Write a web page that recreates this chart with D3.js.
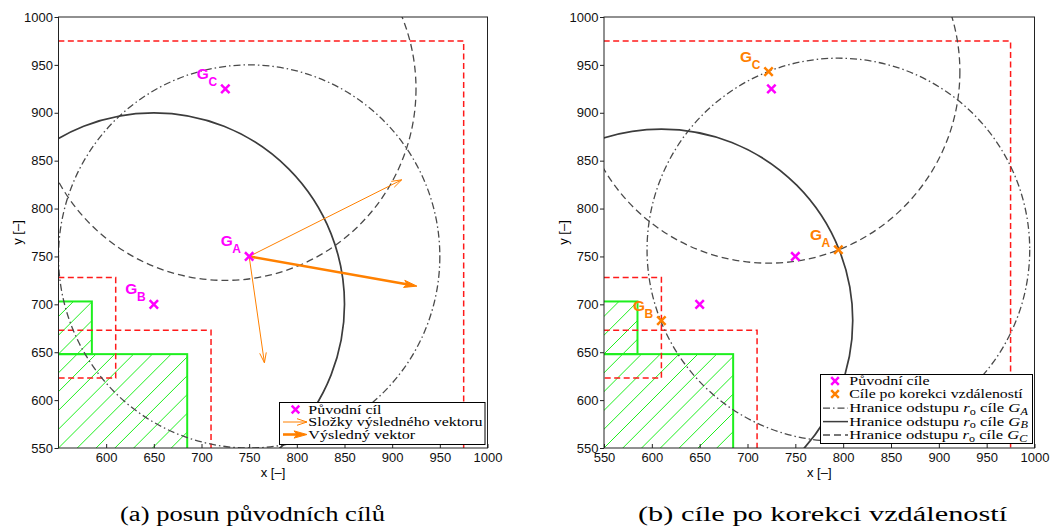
<!DOCTYPE html>
<html>
<head>
<meta charset="utf-8">
<script src="https://cdn.jsdelivr.net/npm/d3@7"></script>
<style>
  body { margin: 0; background: #fff; }
  text { fill: #000; }
</style>
</head>
<body>
<svg id="fig" width="1055" height="528"></svg>
<script>
// ---- data ----
const domainX = [550, 1000];
const domainY = [550, 1000];
const xTicksLeft = [600, 650, 700, 750, 800, 850, 900, 950, 1000];
const xTicksRight = [550, 600, 650, 700, 750, 800, 850, 900, 950, 1000];
const yTicks = [550, 600, 650, 700, 750, 800, 850, 900, 950, 1000];

// targets G_A, G_B, G_C
const targetNames = ["A", "B", "C"];
const originalX = [750, 650, 725];
const originalY = [750, 700, 925];
const correctedX = [795, 610, 722];
const correctedY = [757, 683, 943];
const keepOutRadius = 200;
const boundaryStyle = ["dashdot", "solid", "dashed"];

// obstacles (green hatched), corners in data units
const obstacleX0 = [500, 500];
const obstacleX1 = [585, 685];
const obstacleY0 = [648, 500];
const obstacleY1 = [703, 648];

// obstacle margins and workspace limit (red dashed)
const marginX0 = [500, 500, 500];
const marginX1 = [610, 710, 975];
const marginY0 = [623, 500, 500];
const marginY1 = [728, 673, 975];

// displacement of G_A: component vectors and their sum
const componentEndX = [910, 766];
const componentEndY = [830, 639];
const resultEndX = [926];
const resultEndY = [719];

const legendLeft = ["Původní cíl", "Složky výsledného vektoru", "Výsledný vektor"];
const legendRight = ["Původní cíle", "Cíle po korekci vzdáleností", "Hranice odstupu "];
const captions = ["(a) posun původních cílů", "(b) cíle po korekci vzdáleností"];

// ---- styles ----
const MAGENTA = "#ff00ff", ORANGE = "#ff8000", RED = "#ff1a1a", GREEN = "#1eef1e";
const GREY_SOLID = "#3c3c3c", GREY_DASH = "#4a4a4a";
const dashFor = { solid: null, dashed: "7,4", dashdot: "7,3,1.5,3" };
const SANS = "'Liberation Sans', Arial, sans-serif";
const SERIF = "'Liberation Serif', 'Times New Roman', serif";

const svg = d3.select("#fig");
const defs = svg.append("defs");
const yScale = d3.scaleLinear().domain(domainY).range([448, 17]);

const panels = [
  { id: "a", x: d3.scaleLinear().domain(domainX).range([58.5, 487.5]), xTicks: xTicksLeft },
  { id: "b", x: d3.scaleLinear().domain(domainX).range([604, 1034.5]), xTicks: xTicksRight }
];

function crossPath(s) {
  return `M${-s},${-s}L${s},${s}M${-s},${s}L${s},${-s}`;
}

function arrow(g, x1, y1, x2, y2, thick) {
  const ang = Math.atan2(y2 - y1, x2 - x1);
  const ca = Math.cos(ang), sa = Math.sin(ang);
  const pt = (back, side) => [x2 - back * ca - side * sa, y2 - back * sa + side * ca];
  if (thick) {
    const b = pt(9, 0);
    g.append("line").attr("x1", x1).attr("y1", y1).attr("x2", b[0]).attr("y2", b[1])
      .attr("stroke", ORANGE).attr("stroke-width", 2.6);
    const p1 = pt(13, -3.6), p2 = pt(10, 0), p3 = pt(13, 3.6);
    g.append("path").attr("d", `M${x2},${y2}L${p1}L${p2}L${p3}Z`)
      .attr("fill", ORANGE).attr("stroke", ORANGE).attr("stroke-width", 1).attr("stroke-linejoin", "miter");
  } else {
    g.append("line").attr("x1", x1).attr("y1", y1).attr("x2", x2).attr("y2", y2)
      .attr("stroke", ORANGE).attr("stroke-width", 1);
    const p1 = pt(10, -3.3), p3 = pt(10, 3.3);
    g.append("path").attr("d", `M${p1}L${x2},${y2}L${p3}`)
      .attr("fill", "none").attr("stroke", ORANGE).attr("stroke-width", 1);
  }
}

// horizontally fits a text to a given width
function fitText(parent, x, y, width, build) {
  const g = parent.append("g").attr("transform", `translate(${x},${y})`);
  const t = g.append("text");
  build(t);
  const w = t.node().getBBox().width;
  g.attr("transform", `translate(${x},${y}) scale(${width / w},1)`);
  return g;
}

function targetLabel(g, px, py, name, color) {
  const t = g.append("text").attr("font-family", SANS).attr("font-weight", "bold").style("fill", color);
  t.append("tspan").attr("x", px - 28.5).attr("y", py - 10).attr("font-size", "15.5px").text("G");
  t.append("tspan").attr("x", px - 16.8).attr("y", py - 3).attr("font-size", "12px").text(name);
}

function drawPanel(p, idx) {
  const x = p.x, y = yScale;
  const [px0, px1] = x.range();
  const [pyB, pyT] = y.range();
  const g = svg.append("g");

  const clipId = "clip-" + p.id;
  defs.append("clipPath").attr("id", clipId).append("rect")
    .attr("x", px0).attr("y", pyT).attr("width", px1 - px0).attr("height", pyB - pyT);
  const plot = g.append("g").attr("clip-path", `url(#${clipId})`);

  // hatched obstacles
  const step = 18.8;
  const c0 = px0 + pyB;
  obstacleX0.forEach((_, i) => {
    const rx0 = x(Math.max(obstacleX0[i], domainX[0])), rx1 = x(obstacleX1[i]);
    const ryT = y(obstacleY1[i]), ryB = y(Math.max(obstacleY0[i], domainY[0]));
    const hid = `hatch-${p.id}-${i}`;
    defs.append("clipPath").attr("id", hid).append("rect")
      .attr("x", rx0).attr("y", ryT).attr("width", rx1 - rx0).attr("height", ryB - ryT);
    const hg = plot.append("g").attr("clip-path", `url(#${hid})`)
      .attr("stroke", GREEN).attr("stroke-width", 1);
    const cStart = c0 + Math.floor((rx0 + ryT - c0) / step) * step;
    for (let c = cStart; c <= rx1 + ryB + step; c += step) {
      hg.append("line").attr("x1", c - ryB).attr("y1", ryB).attr("x2", c - ryT).attr("y2", ryT);
    }
  });
  obstacleX0.forEach((_, i) => {
    plot.append("rect")
      .attr("x", x(obstacleX0[i])).attr("y", y(obstacleY1[i]))
      .attr("width", x(obstacleX1[i]) - x(obstacleX0[i]))
      .attr("height", y(obstacleY0[i]) - y(obstacleY1[i]))
      .attr("fill", "none").attr("stroke", GREEN).attr("stroke-width", 2);
  });

  // red dashed margins
  marginX0.forEach((_, i) => {
    plot.append("rect")
      .attr("x", x(marginX0[i])).attr("y", y(marginY1[i]))
      .attr("width", x(marginX1[i]) - x(marginX0[i]))
      .attr("height", y(marginY0[i]) - y(marginY1[i]))
      .attr("fill", "none").attr("stroke", RED).attr("stroke-width", 1.5)
      .attr("stroke-dasharray", "6,3.5");
  });

  // keep-out boundaries around targets
  const cx = idx === 0 ? originalX : correctedX;
  const cy = idx === 0 ? originalY : correctedY;
  cx.forEach((_, i) => {
    const st = boundaryStyle[i];
    plot.append("ellipse")
      .attr("cx", x(cx[i])).attr("cy", y(cy[i]))
      .attr("rx", x(cx[i] + keepOutRadius) - x(cx[i]))
      .attr("ry", y(cy[i]) - y(cy[i] + keepOutRadius))
      .attr("fill", "none")
      .attr("stroke", st === "solid" ? GREY_SOLID : GREY_DASH)
      .attr("stroke-width", st === "solid" ? 1.7 : 1.3)
      .attr("stroke-dasharray", dashFor[st]);
  });

  if (idx === 0) {
    // component vectors and resulting vector applied at G_A
    componentEndX.forEach((_, i) => {
      arrow(plot, x(originalX[0]), y(originalY[0]), x(componentEndX[i]), y(componentEndY[i]), false);
    });
    arrow(plot, x(originalX[0]), y(originalY[0]), x(resultEndX[0]), y(resultEndY[0]), true);
  }

  // original targets
  originalX.forEach((_, i) => {
    plot.append("path").attr("d", crossPath(4.2))
      .attr("transform", `translate(${x(originalX[i])},${y(originalY[i])})`)
      .attr("stroke", MAGENTA).attr("stroke-width", 2.5).attr("fill", "none");
    if (idx === 0) targetLabel(g, x(originalX[i]), y(originalY[i]), targetNames[i], MAGENTA);
  });
  if (idx === 1) {
    correctedX.forEach((_, i) => {
      plot.append("path").attr("d", crossPath(4.2))
        .attr("transform", `translate(${x(correctedX[i])},${y(correctedY[i])})`)
        .attr("stroke", ORANGE).attr("stroke-width", 2.5).attr("fill", "none");
      targetLabel(g, x(correctedX[i]), y(correctedY[i]), targetNames[i], ORANGE);
    });
  }

  // axes
  const ax = g.append("g").attr("transform", `translate(0,${pyB})`)
    .call(d3.axisBottom(x).tickValues(p.xTicks).tickSize(-4).tickPadding(5).tickFormat(d3.format("d")));
  const ay = g.append("g").attr("transform", `translate(${px0},0)`)
    .call(d3.axisLeft(y).tickValues(yTicks).tickSize(4).tickPadding(1.5).tickFormat(d3.format("d")));
  [ax, ay].forEach(a => {
    a.select(".domain").remove();
    a.selectAll("line").attr("stroke", "#222");
    a.selectAll("text").attr("font-family", SANS).attr("font-size", "13px").style("fill", "#111");
  });
  g.append("rect").attr("x", px0).attr("y", pyT).attr("width", px1 - px0).attr("height", pyB - pyT)
    .attr("fill", "none").attr("stroke", "#222").attr("stroke-width", 1);

  g.append("text").attr("x", (px0 + px1) / 2).attr("y", 477)
    .attr("text-anchor", "middle").attr("font-family", SANS).attr("font-size", "13px").text("x [–]");
  g.append("text").attr("transform", `translate(${px0 - 36.5},${(pyT + pyB) / 2}) rotate(-90)`)
    .attr("text-anchor", "middle").attr("font-family", SANS).attr("font-size", "13px").text("y [–]");
}

panels.forEach(drawPanel);

// ---- legends ----
function legendText(parent, x, y, w, build) {
  fitText(parent, x, y, w, t => { t.attr("font-family", SERIF).attr("font-size", "13px"); build(t); });
}

// panel (a)
{
  const lg = svg.append("g");
  lg.append("rect").attr("x", 279.5).attr("y", 402.5).attr("width", 205.5).attr("height", 42)
    .attr("fill", "#fff").attr("stroke", "#000").attr("stroke-width", 1);
  const rows = [409.5, 422, 434.5];
  lg.append("path").attr("d", crossPath(3.8)).attr("transform", `translate(295.5,${rows[0]})`)
    .attr("stroke", MAGENTA).attr("stroke-width", 2.5).attr("fill", "none");
  arrow(lg, 283, rows[1], 307, rows[1], false);
  arrow(lg, 283, rows[2], 307, rows[2], true);
  const widths = [73.7, 175, 107.7];
  legendLeft.forEach((s, i) => legendText(lg, 308.3, rows[i] + 4.3, widths[i], t => t.text(s)));
}

// panel (b)
{
  const lg = svg.append("g");
  lg.append("rect").attr("x", 820.5).attr("y", 374.5).attr("width", 212).attr("height", 69)
    .attr("fill", "#fff").attr("stroke", "#000").attr("stroke-width", 1);
  const rows = [381, 394, 408.2, 421.6, 435];
  lg.append("path").attr("d", crossPath(3.8)).attr("transform", `translate(835,${rows[0]})`)
    .attr("stroke", MAGENTA).attr("stroke-width", 2.5).attr("fill", "none");
  lg.append("path").attr("d", crossPath(3.8)).attr("transform", `translate(835,${rows[1]})`)
    .attr("stroke", ORANGE).attr("stroke-width", 2.5).attr("fill", "none");
  legendText(lg, 849.3, rows[0] + 4.2, 80.7, t => t.text(legendRight[0]));
  legendText(lg, 849.3, rows[1] + 4.2, 174, t => t.text(legendRight[1]));
  targetNames.forEach((n, i) => {
    const yy = rows[2 + i];
    const st = boundaryStyle[i];
    lg.append("line").attr("x1", 823).attr("x2", 848).attr("y1", yy).attr("y2", yy)
      .attr("stroke", st === "solid" ? GREY_SOLID : GREY_DASH)
      .attr("stroke-width", st === "solid" ? 1.5 : 1.3)
      .attr("stroke-dasharray", dashFor[st]);
    legendText(lg, 849.3, yy + 4.2, 179, t => {
      t.append("tspan").text(legendRight[2]);
      t.append("tspan").attr("font-style", "italic").text("r");
      t.append("tspan").attr("font-size", "9.5px").attr("dy", 2.5).text("o");
      t.append("tspan").attr("dy", -2.5).text(" cíle ");
      t.append("tspan").attr("font-style", "italic").text("G");
      t.append("tspan").attr("font-style", "italic").attr("font-size", "9.5px").attr("dy", 2.5).text(n);
    });
  });
}

// ---- captions ----
fitText(svg, 120, 521, 265, t => t.attr("font-family", SERIF).attr("font-size", "20px").text(captions[0]));
fitText(svg, 638, 521, 370, t => t.attr("font-family", SERIF).attr("font-size", "20px").text(captions[1]));
</script>
</body>
</html>
